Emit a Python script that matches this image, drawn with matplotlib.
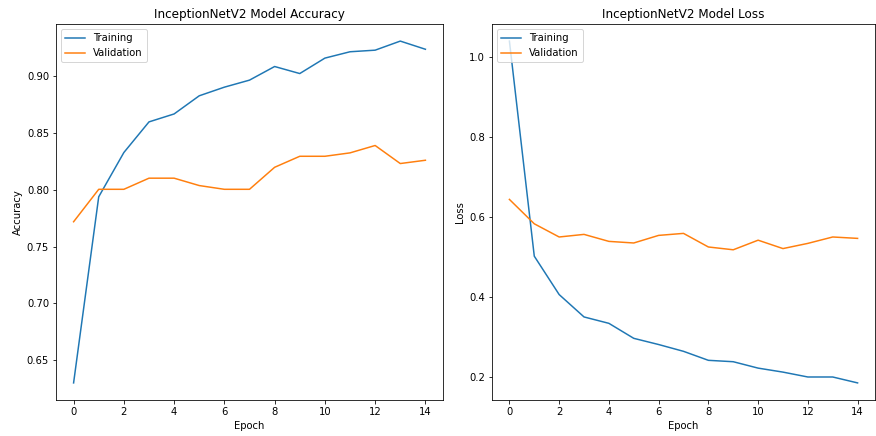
import matplotlib
matplotlib.use('Agg')
import matplotlib.pyplot as plt

epochs = list(range(15))

train_acc = [0.630, 0.794, 0.833, 0.860, 0.867, 0.883, 0.8906, 0.8968, 0.9088,
             0.9026, 0.9162, 0.9218, 0.9232, 0.9312, 0.924]
val_acc = [0.772, 0.8006, 0.8006, 0.8104, 0.8104, 0.8039, 0.8006, 0.8006, 0.820,
           0.8297, 0.8297, 0.8327, 0.8392, 0.8233, 0.8262]

train_loss = [1.041, 0.503, 0.407, 0.351, 0.335, 0.2975, 0.282, 0.265, 0.2425,
              0.239, 0.223, 0.213, 0.2008, 0.2008, 0.186]
val_loss = [0.645, 0.584, 0.551, 0.5575, 0.540, 0.536, 0.555, 0.560, 0.526,
            0.519, 0.543, 0.522, 0.535, 0.551, 0.5475]

fig = plt.figure(figsize=(876 / 72, 436 / 72), dpi=72)
ax1 = fig.add_axes([56 / 876, 1 - 400 / 436, (443 - 56) / 876, 376 / 436])
ax2 = fig.add_axes([492 / 876, 1 - 400 / 436, (875 - 492) / 876, 376 / 436])

# accuracy
ax1.plot(epochs, train_acc, label='Training')
ax1.plot(epochs, val_acc, label='Validation')
ax1.set_title('InceptionNetV2 Model Accuracy')
ax1.set_xlabel('Epoch')
ax1.set_ylabel('Accuracy')
ax1.legend(loc='upper left')

# loss
ax2.plot(epochs, train_loss, label='Training')
ax2.plot(epochs, val_loss, label='Validation')
ax2.set_title('InceptionNetV2 Model Loss')
ax2.set_xlabel('Epoch')
ax2.set_ylabel('Loss')
ax2.legend(loc='upper left')

fig.savefig('out.png', dpi=72)
